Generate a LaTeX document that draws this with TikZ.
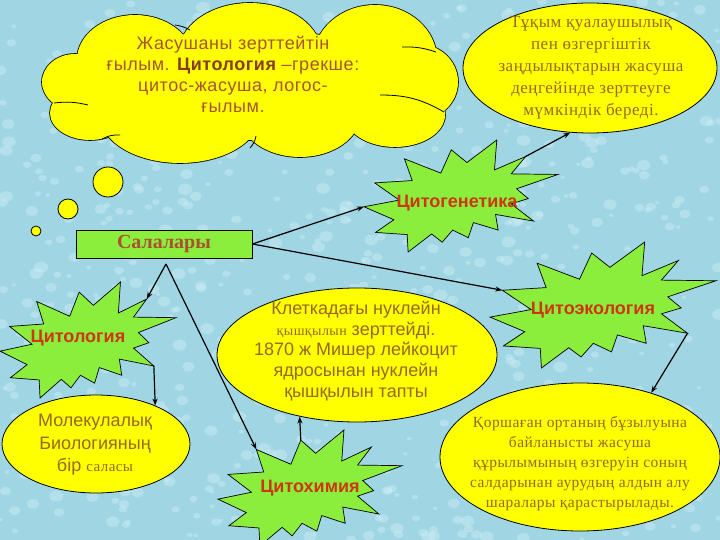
\documentclass[tikz,border=0pt]{standalone}
\usepackage{fontspec}
\setmainfont{Liberation Serif}
\newfontfamily\sansf{Liberation Sans}
\newfontfamily\sansl[LetterSpace=3]{Liberation Sans}
\newfontfamily\serifl[LetterSpace=3]{Liberation Serif}
\usetikzlibrary{shapes.geometric,arrows.meta}
\definecolor{bg}{RGB}{160,214,228}
\definecolor{bgl}{RGB}{205,238,245}
\definecolor{yel}{RGB}{255,255,0}
\definecolor{grn}{RGB}{140,238,60}
\definecolor{brn}{RGB}{165,85,50}
\definecolor{dbrn}{RGB}{135,60,30}
\definecolor{olv}{RGB}{150,105,30}
\definecolor{red1}{RGB}{205,55,15}
\definecolor{salc}{RGB}{170,80,50}
\tikzset{
  yell/.style={ellipse, draw=black, fill=yel, line width=0.8pt, inner sep=0pt},
  bub/.style={circle, draw=black, fill=yel, line width=0.8pt, inner sep=0pt},
  burstfill/.style={fill=grn, draw=black, line width=0.7pt, line join=miter},
  burstlbl/.style={font=\sansf\bfseries\fontsize{18}{21}\selectfont, text=red1, inner sep=0pt},
  arr/.style={-{Stealth[length=7pt,width=5pt]}, line width=1.2pt, black},
  txt/.style={align=center, inner sep=0pt},
  inner/.style={line width=0.8pt, black},
}
\newcommand\burst[4]{% #1 name, #2 centre, #3 rx, #4 ry
  \begin{scope}[shift={(#2)}, x=#3pt, y=-#4pt]
    \coordinate (#1-1) at (0.061,-0.598);
    \coordinate (#1-2) at (0.369,-1);
    \coordinate (#1-3) at (0.345,-0.465);
    \coordinate (#1-4) at (0.667,-0.706);
    \coordinate (#1-5) at (0.517,-0.395);
    \coordinate (#1-6) at (1,-0.385);
    \coordinate (#1-7) at (0.573,-0.129);
    \coordinate (#1-8) at (0.692,0.046);
    \coordinate (#1-9) at (0.517,0.140);
    \coordinate (#1-10) at (0.748,0.448);
    \coordinate (#1-11) at (0.356,0.329);
    \coordinate (#1-12) at (0.383,0.608);
    \coordinate (#1-13) at (0.128,0.475);
    \coordinate (#1-14) at (0.075,0.744);
    \coordinate (#1-15) at (-0.086,0.608);
    \coordinate (#1-16) at (-0.194,0.825);
    \coordinate (#1-17) at (-0.303,0.678);
    \coordinate (#1-18) at (-0.545,1);
    \coordinate (#1-19) at (-0.555,0.689);
    \coordinate (#1-20) at (-0.881,0.650);
    \coordinate (#1-21) at (-0.692,0.424);
    \coordinate (#1-22) at (-1,0.192);
    \coordinate (#1-23) at (-0.636,0.073);
    \coordinate (#1-24) at (-0.891,-0.234);
    \coordinate (#1-25) at (-0.503,-0.276);
    \coordinate (#1-26) at (-0.583,-0.664);
    \coordinate (#1-27) at (-0.208,-0.409);
    \coordinate (#1-28) at (-0.100,-0.825);
    \filldraw[burstfill] (#1-1) \foreach \i in {2,...,28}{ -- (#1-\i)} -- cycle;
  \end{scope}}
\newcommand\cloudlobes{%
  (75,82) ellipse [x radius=33, y radius=28]
  (135,60) ellipse [x radius=58, y radius=45]
  (250,55) ellipse [x radius=72, y radius=52]
  (375,60) ellipse [x radius=62, y radius=55]
  (418,82) ellipse [x radius=40, y radius=38]
  (395,115) ellipse [x radius=50, y radius=32]
  (300,115) ellipse [x radius=60, y radius=42]
  (180,115) ellipse [x radius=80, y radius=48]
  (90,113) ellipse [x radius=40, y radius=27]
  (250,85) ellipse [x radius=170, y radius=55]}
\begin{document}
\begin{tikzpicture}[x=1pt,y=-1pt]
\useasboundingbox (0,0) rectangle (720,540);
\fill[bg] (0,0) rectangle (720,540);
% background texture
\pgfmathsetseed{7}
\foreach \k in {1,...,700}{
  \pgfmathsetmacro\px{720*rnd}
  \pgfmathsetmacro\py{540*rnd}
  \pgfmathsetmacro\pr{1.5+4*rnd}
  \fill[bgl, opacity=0.45] (\px,\py) ellipse [x radius=\pr*1.3, y radius=\pr];
}

% cloud: union of lobes
\draw[line width=1.6pt, black] \cloudlobes;
\fill[yel] \cloudlobes;
\draw[inner] (54,103) to[bend left=10] (88,105);
\draw[inner] (380,95) to[bend left=15] (444,112);
\draw[inner] (402,47) to[bend left=10] (436,52);
\draw[inner] (102,139) to[bend left=15] (120,135);
\draw[inner] (250,148) to[bend right=15] (256,136);
\draw[inner] (175,25) to[bend left=10] (190,30);
\node[txt, text=brn, font=\sansl\fontsize{18}{21}\selectfont] (cloudtxt) at (233,74)
  {Жасушаны  зерттейтін\\ ғылым. {\color{dbrn}\bfseries Цитология} –грекше:\\ цитос-жасуша, логос-\\ ғылым.};
\node[bub, minimum size=30pt] (b1) at (108,182) {};
\node[bub, minimum size=20pt] (b2) at (68,209) {};
\node[bub, minimum size=10pt] (b3) at (36,231) {};

% top right ellipse
\node[yell, minimum width=254pt, minimum height=130pt] (tr) at (590,68) {};
\node[txt, text=olv, font=\serifl\fontsize{17}{22}\selectfont] (trtxt) at (591,68)
  {Тұқым қуалаушылық\\ пен өзгергіштік\\ заңдылықтарын жасуша\\ деңгейінде  зерттеуге\\ мүмкіндік береді.};

% cell nucleic ellipse
\node[yell, minimum width=280pt, minimum height=134pt] (kl) at (357,355) {};
\node[txt, text=olv, font=\sansf\fontsize{18}{20.8}\selectfont] (kltxt) at (356,351)
  {Клеткадағы нуклейн\\ {\serifl\fontsize{14}{20.8}\selectfont қышқылын}  зерттейді.\\ 1870 ж Мишер лейкоцит\\ ядросынан нуклейн\\ қышқылын тапты};

% molecular ellipse
\node[yell, minimum width=188pt, minimum height=98pt] (mol) at (96,444) {};
\node[txt, text=olv, font=\sansf\fontsize{18}{22.5}\selectfont] (moltxt) at (95,445)
  {Молекулалық\\ Биологияның\\ бір {\serifl\fontsize{15}{22.5}\selectfont салaсы}};

% bottom right ellipse
\node[yell, minimum width=280pt, minimum height=148pt] (br) at (580,457) {};
\node[txt, text=olv, font=\serifl\fontsize{15.5}{20}\selectfont] (brtxt) at (580,464)
  {Қоршаған ортаның бұзылуына\\ байланысты жасуша\\ құрылымының өзгеруін соның\\ салдарынан аурудың алдын алу\\ шаралары қарастырылады.};

% bursts
\coordinate (cgc) at (461,196);
\burst{cg}{cgc}{97}{56}
\node[burstlbl] (cglbl) at (457,203) {Цитогенетика};
\coordinate (cec) at (603,305);
\burst{ce}{cec}{113}{63}
\node[burstlbl] (celbl) at (593,310) {Цитоэкология};
\coordinate (cyc) at (88,340);
\burst{cy}{cyc}{88}{58}
\node[burstlbl] (cylbl) at (78,338) {Цитология};
\coordinate (chc) at (310,488);
\burst{ch}{chc}{92}{58}
\node[burstlbl] (chlbl) at (310,488) {Цитохимия};

% Салалары
\node[draw=black, fill=grn, line width=0.8pt, minimum width=176pt, minimum height=28pt, inner sep=0pt,
      text=salc, font=\bfseries\fontsize{20}{24}\selectfont] (sal) at (164,244) {Салалары};
\coordinate (salb) at (166,264);

% connectors
\draw[arr] (sal.east) -- (cg-22);
\draw[arr] (sal.east) -- (ce-24);
\draw[arr] (salb) -- (cy-4);
\draw[arr] (salb) -- (ch-26);
\draw[arr] (cg-4) -- (tr.253);
\draw[arr] (cy-10) -- (mol.33.6);
\draw[arr] (ch-28) -- (kl.227.6);
\draw[arr] (ce-10) -- (br.42);
\end{tikzpicture}
\end{document}
